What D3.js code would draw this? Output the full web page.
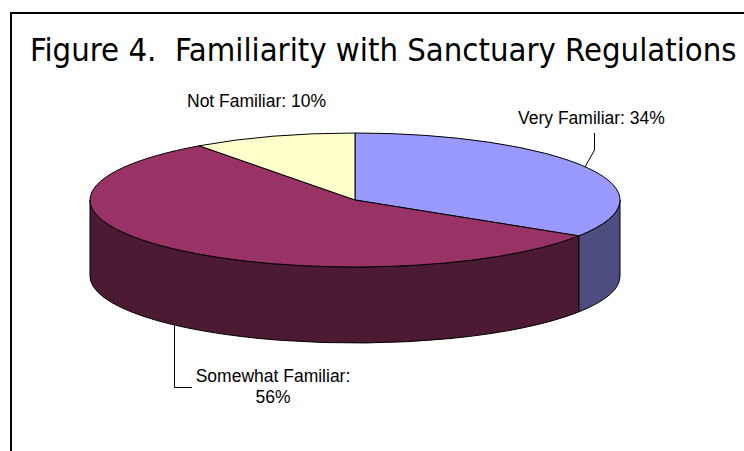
<!DOCTYPE html>
<html>
<head>
<meta charset="utf-8">
<script src="https://cdn.jsdelivr.net/npm/d3@7/dist/d3.min.js"></script>
<style>
  html, body { margin: 0; padding: 0; background: #fff; }
  svg { display: block; }
</style>
</head>
<body>
<svg id="chart" width="744" height="451"></svg>
<script>
// Survey shares by familiarity level
const categories = ["Very Familiar", "Somewhat Familiar", "Not Familiar"];
const values = [34, 56, 10];
const topColors = ["#9999ff", "#993366", "#ffffcc"];
const sideColors = ["#4d4d80", "#4d1a33", "#80806a"];
const titleText = "Figure 4.  Familiarity with Sanctuary Regulations";

const svg = d3.select("#chart");
const W = 744, H = 451;

// frame
svg.append("path")
  .attr("d", `M11,${H + 2} L11,13 L${W + 2},13`)
  .attr("fill", "none").attr("stroke", "#000").attr("stroke-width", 2);

// title, fitted to its box
const title = svg.append("text")
  .attr("x", 30).attr("y", 61)
  .attr("font-family", "'DejaVu Sans Condensed', 'Liberation Sans Narrow', sans-serif")
  .attr("font-size", 30)
  .attr("fill", "#000")
  .style("white-space", "pre")
  .text(titleText);
const tw = title.node().getComputedTextLength();
title.attr("font-size", 30 * 707 / tw);

// 3D pie geometry
const cx = 355, cy = 200, rx = 265, ry = 67, depth = 76;
const pie = d3.pie().sort(null).value(d => d).startAngle(0).endAngle(2 * Math.PI);
const arcs = pie(values);

const px = a => cx + rx * Math.sin(a);
const py = a => cy - ry * Math.cos(a);

// side walls (only the front half, angles PI/2 .. 3PI/2, is visible)
const sideLayer = svg.append("g");
arcs.forEach((d, i) => {
  const a0 = Math.max(d.startAngle, Math.PI / 2);
  const a1 = Math.min(d.endAngle, 3 * Math.PI / 2);
  if (a1 <= a0) return;
  const large = (a1 - a0) > Math.PI ? 1 : 0;
  const p = `M${px(a0)},${py(a0)}` +
    ` A${rx},${ry} 0 ${large} 1 ${px(a1)},${py(a1)}` +
    ` L${px(a1)},${py(a1) + depth}` +
    ` A${rx},${ry} 0 ${large} 0 ${px(a0)},${py(a0) + depth} Z`;
  sideLayer.append("path").attr("d", p)
    .attr("fill", sideColors[i]).attr("stroke", "#000").attr("stroke-width", 1)
    .attr("stroke-linejoin", "round");
});

// top faces
const topLayer = svg.append("g");
arcs.forEach((d, i) => {
  const a0 = d.startAngle, a1 = d.endAngle;
  const large = (a1 - a0) > Math.PI ? 1 : 0;
  const p = `M${cx},${cy} L${px(a0)},${py(a0)}` +
    ` A${rx},${ry} 0 ${large} 1 ${px(a1)},${py(a1)} Z`;
  topLayer.append("path").attr("d", p)
    .attr("fill", topColors[i]).attr("stroke", "#000").attr("stroke-width", 1)
    .attr("stroke-linejoin", "round");
});

// data labels
const labelFont = "Arial, 'Liberation Sans', sans-serif";
const lab = svg.append("g").attr("font-family", labelFont).attr("font-size", 17.5).attr("fill", "#000");
const fmt = i => `${categories[i]}: ${values[i]}%`;

lab.append("text").attr("x", 518).attr("y", 124).text(fmt(0));
lab.append("text").attr("x", 187).attr("y", 107).text(fmt(2));
const sm = lab.append("text").attr("text-anchor", "middle");
sm.append("tspan").attr("x", 273).attr("y", 382).text(categories[1] + ":");
sm.append("tspan").attr("x", 273).attr("y", 403).text(values[1] + "%");

// leader lines
const leaders = svg.append("g").attr("fill", "none").attr("stroke", "#000").attr("stroke-width", 1);
leaders.append("path").attr("d", "M594.5,133 L594.5,150 L585,167");
leaders.append("path").attr("d", "M174.5,326 L174.5,387.5 L192,387.5");
</script>
</body>
</html>
